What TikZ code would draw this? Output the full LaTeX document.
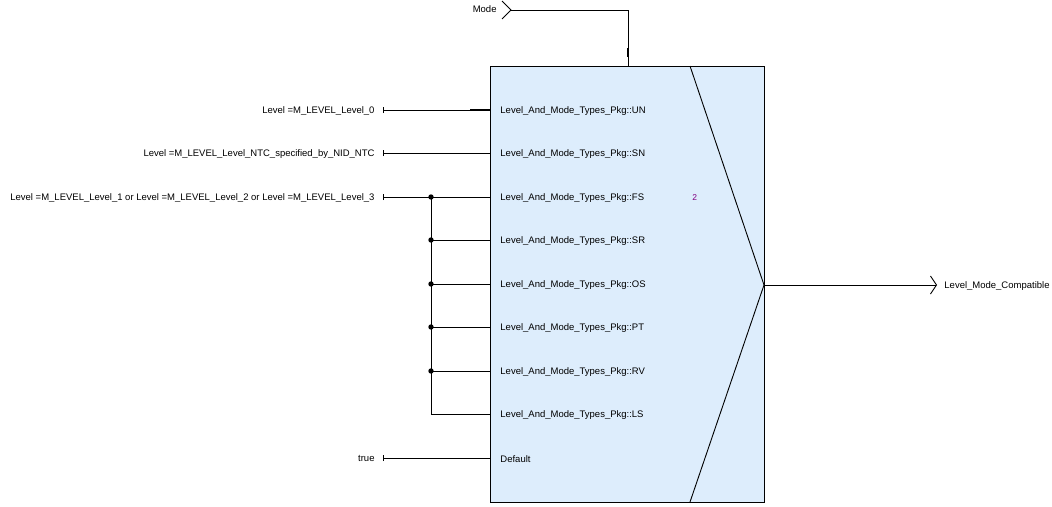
\documentclass[tikz,border=0pt]{standalone}
\usepackage{fontspec}
\setmainfont{Liberation Sans}
\usetikzlibrary{arrows.meta}
\definecolor{blockfill}{HTML}{DDEDFC}
\definecolor{portnum}{HTML}{800080}
\begin{document}
\begin{tikzpicture}[x=1pt,y=-1pt,line width=0.9pt,
  lbl/.style={font=\fontsize{9.5}{11}\selectfont,inner sep=0pt},
  wire/.style={{Bar[width=6pt,line width=0.9pt]}-},
  dot/.style={fill=black},
  stub/.style={line width=2.2pt}]
\useasboundingbox (0,0) rectangle (1052,506);

% switch block
\node[draw,fill=blockfill,minimum width=274pt,minimum height=436pt,
      anchor=north west,inner sep=0pt,outer sep=0pt] (blk) at (490,66) {};
\coordinate (c-top) at (690,66);
\coordinate (c-tip) at (764,285);
\coordinate (c-bot) at (690,502);
\draw (c-top) -- (c-tip) -- (c-bot);
\node[lbl,anchor=west,text=portnum,font=\fontsize{8.5}{10}\selectfont] (num) at (692,197.5) {2};

% case ports
\foreach \n/\y/\t in {un/110/UN,sn/153/SN,fs/197/FS,sr/240/SR,os/284/OS,pt/327/PT,rv/371/RV,ls/414/LS}{
  \coordinate (p-\n) at (490,\y);
  \node[lbl,anchor=west] (pl-\n) at (500,\y+0.8) {Level\_And\_Mode\_Types\_Pkg::\t};
}
\coordinate (p-def) at (490,458);
\node[lbl,anchor=west] (pl-def) at (500,458.8) {Default};

% case conditions
\node[lbl,anchor=east] (s-un) at (375,110.8) {Level =M\_LEVEL\_Level\_0};
\node[lbl,anchor=east] (s-sn) at (375,153.8) {Level =M\_LEVEL\_Level\_NTC\_specified\_by\_NID\_NTC};
\node[lbl,anchor=east] (s-fs) at (375,197.8) {Level =M\_LEVEL\_Level\_1 or Level =M\_LEVEL\_Level\_2 or Level =M\_LEVEL\_Level\_3};
\node[lbl,anchor=east] (s-def) at (375,458.8) {true};
\coordinate (t-un) at (383,110);
\coordinate (t-sn) at (383,153);
\coordinate (t-fs) at (383,197);
\coordinate (t-def) at (383,458);

\draw[wire] (t-un) -- (p-un);
\draw[stub] (470,110) -- (p-un);
\draw[wire] (t-sn) -- (p-sn);
\draw[wire] (t-fs) -- (p-fs);
\draw[wire] (t-def) -- (p-def);

% fan-out of the shared condition
\foreach \n/\y in {fs/197,sr/240,os/284,pt/327,rv/371}{
  \coordinate (j-\n) at (431,\y);
}
\draw (j-fs) |- (p-ls);
\foreach \n in {sr,os,pt,rv}{
  \draw (j-\n) -- (p-\n);
}
\foreach \n in {fs,sr,os,pt,rv}{
  \fill[dot] (j-\n) circle (2.7);
}

% control input
\node[lbl,anchor=east] (mode) at (497,9.5) {Mode};
\coordinate (m-in) at (511,10);
\coordinate (p-mode) at (628,66);
\draw (502,1) -- (m-in) -- (502,19);
\draw (m-in) -| (p-mode);
\draw[stub] (628,48) -- (628,57);

% output
\coordinate (o-end) at (937,285);
\draw[-{Straight Barb[length=6pt,width=18pt]}] (c-tip) -- (o-end);
\node[lbl,anchor=west] (out) at (944,285.8) {Level\_Mode\_Compatible};
\end{tikzpicture}
\end{document}
